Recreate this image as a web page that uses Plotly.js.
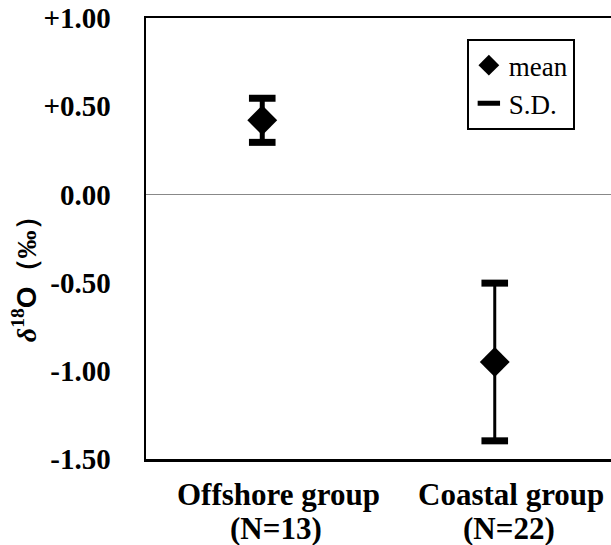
<!DOCTYPE html>
<html>
<head>
<meta charset="utf-8">
<script src="https://cdn.plot.ly/plotly-3.0.1.min.js"></script>
<style>html,body{margin:0;padding:0;overflow:hidden;background:#fff}</style>
</head>
<body>
<div id="chart" style="width:611px;height:545px"></div>
<script>
const groups = ['Offshore group', 'Coastal group'];
const counts = ['(N=13)', '(N=22)'];
const means = [0.42, -0.95];
const sds = [0.125, 0.447];
const yTickVals = [1, 0.5, 0, -0.5, -1, -1.5];
const yTickText = ['+1.00', '+0.50', '0.00', '-0.50', '-1.00', '-1.50'];
const stemWidths = [5, 3];

const xs = [0, 1];
const traces = [];
xs.forEach((x, i) => {
  traces.push({
    type: 'scatter', mode: 'markers',
    x: [x], y: [means[i]],
    name: 'mean', legendgroup: 'mean', showlegend: i === 0,
    marker: {symbol: 'diamond', size: 23, color: '#000'},
    error_y: {type: 'data', array: [sds[i]], visible: true, color: '#000', thickness: stemWidths[i], width: 0}
  });
});
traces.push({
  type: 'scatter', mode: 'markers',
  x: xs.concat(xs),
  y: means.map((m, i) => m + sds[i]).concat(means.map((m, i) => m - sds[i])),
  name: 'S.D.', legendgroup: 'sd',
  marker: {symbol: 'line-ew', size: 19, color: '#000', line: {color: '#000', width: 7}}
});

const labelFont = {family: 'Liberation Serif', size: 31, color: '#000', weight: 'bold'};
const annotations = [];
xs.forEach((x, i) => {
  annotations.push({xref: 'x', yref: 'paper', x: x, y: -0.0794, xshift: 16, text: groups[i], showarrow: false,
    xanchor: 'center', yanchor: 'middle', font: labelFont});
  annotations.push({xref: 'x', yref: 'paper', x: x, y: -0.1565, xshift: 14, text: counts[i], showarrow: false,
    xanchor: 'center', yanchor: 'middle', font: labelFont});
});
annotations.push({xref: 'paper', yref: 'paper', x: -0.262, y: 0.424, textangle: -90, showarrow: false,
  xanchor: 'center', yanchor: 'middle',
  text: '<i>δ</i><sup>18</sup><span style="font-family:Liberation Sans">O</span>（‰）',
  font: {family: 'Liberation Serif', size: 28, color: '#000', weight: 'bold'}});

const layout = {
  width: 611, height: 545,
  margin: {l: 146, r: 0, t: 18, b: 86},
  paper_bgcolor: '#fff', plot_bgcolor: '#fff',
  showlegend: true,
  legend: {
    x: 0.69, y: 0.952, xanchor: 'left', yanchor: 'top',
    bordercolor: '#000', borderwidth: 2, bgcolor: '#fff',
    font: {family: 'Liberation Serif', size: 27, color: '#000'},
    traceorder: 'grouped', tracegroupgap: 0
  },
  xaxis: {
    range: [-0.5, 1.5], tickvals: xs, showticklabels: false,
    ticks: '', showgrid: false, zeroline: false,
    showline: true, linecolor: '#000', linewidth: 2.5, mirror: true,
    fixedrange: true
  },
  yaxis: {
    range: [-1.5, 1.0], tickvals: yTickVals, ticktext: yTickText,
    ticks: '', showgrid: false,
    zeroline: true, zerolinecolor: '#888', zerolinewidth: 1,
    showline: true, linecolor: '#000', linewidth: 2.5, mirror: true,
    tickfont: {family: 'Liberation Serif', size: 29, color: '#000', weight: 'bold'},
    ticklabelstandoff: 27, fixedrange: true
  },
  annotations: annotations
};

Plotly.newPlot('chart', traces, layout, {displayModeBar: false, staticPlot: true});
</script>
</body>
</html>
